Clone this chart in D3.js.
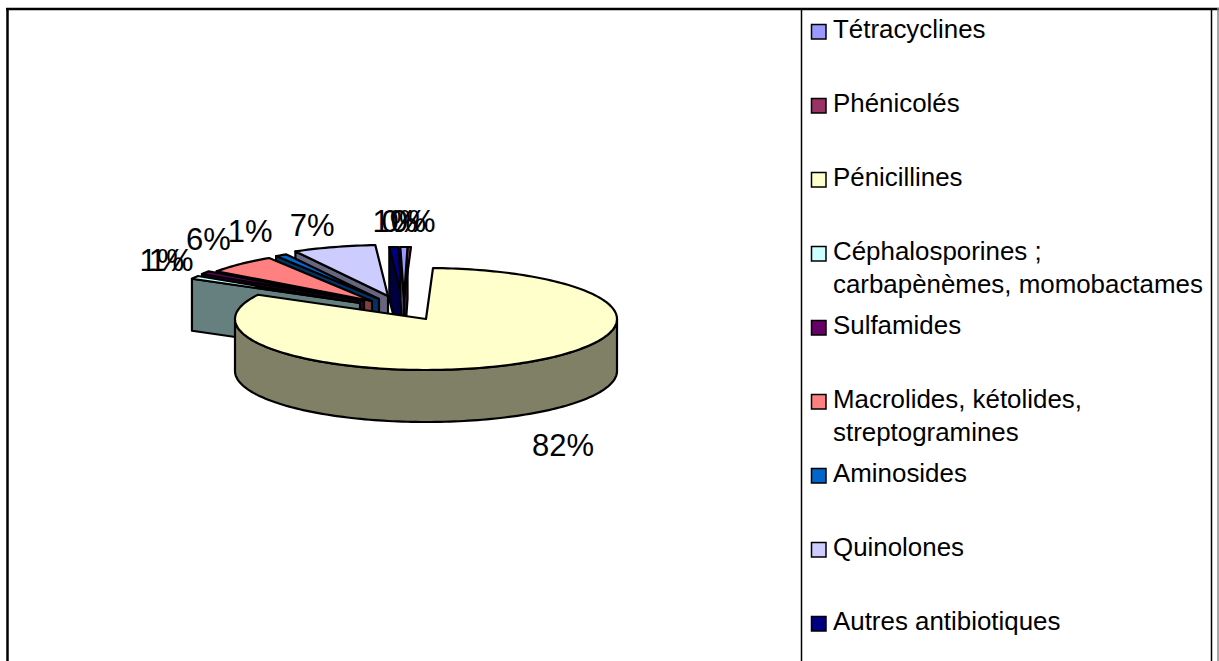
<!DOCTYPE html>
<html>
<head>
<meta charset="utf-8">
<script src="https://cdn.jsdelivr.net/npm/d3@7"></script>
<style>
  html, body { margin: 0; padding: 0; background: #fff; overflow: hidden; }
  text { font-family: "Liberation Sans", Arial, sans-serif; fill: #000; }
</style>
</head>
<body>
<svg id="chart" width="1219" height="661"></svg>
<script>
// clockwise from the top of the pie, the order the legend uses
const categories = ["Tétracyclines", "Phénicolés", "Pénicillines", "Céphalosporines ;", "Sulfamides",
  "Macrolides, kétolides,", "Aminosides", "Quinolones", "Autres antibiotiques"];
const secondLines = ["", "", "", "carbapènèmes, momobactames", "", "streptogramines", "", "", ""];
const values = [0.6, 0.29, 82.3, 1, 1, 6.06, 1, 7, 0.75];
const percentLabels = ["0%", "0%", "82%", "1%", "1%", "6%", "1%", "7%", "1%"];

const topColors = ["#9999ff", "#993366", "#ffffcc", "#ccffff", "#660066", "#ff8080", "#0066cc", "#ccccff", "#000080"];
const sideColors = ["#4d4d80", "#4d1a33", "#808066", "#668080", "#330033", "#804040", "#003366", "#666680", "#000040"];

// how far each slice was pulled out of the pie
const explodeX = [-22, -22, 0, -66, -62, -54, -47, -38, -24];
const explodeY = [-21, -21, 0, -16, -18, -18, -20, -23, -21];
// label position relative to the middle of the slice's outer edge
const labelX = [0, 4, 0, -33, -34, -32, -31, -22, 1];
const labelY = [-26, -26, 0, -17, -13, -25, -24, -22, -26];

const cx = 426, cy = 319, rx = 191, ry = 51, depth = 52;
const startAngle = 2.1 - (values[0] + values[1]) * 3.6;

const svg = d3.select("#chart");

const frame = svg.append("g").attr("fill", "none").attr("stroke", "#000");
frame.append("line").attr("x1", 6).attr("x2", 1219).attr("y1", 9).attr("y2", 9).attr("stroke-width", 2.5);
frame.append("line").attr("x1", 7.5).attr("x2", 7.5).attr("y1", 8).attr("y2", 661).attr("stroke-width", 2.5);
frame.append("line").attr("x1", 801.5).attr("x2", 801.5).attr("y1", 8).attr("y2", 661).attr("stroke-width", 1.5);
frame.append("line").attr("x1", 1211.5).attr("x2", 1211.5).attr("y1", 8).attr("y2", 661).attr("stroke-width", 1.5);
frame.append("line").attr("x1", 1218).attr("x2", 1218).attr("y1", 8).attr("y2", 661).attr("stroke", "#888").attr("stroke-width", 1.5);

const pie = d3.pie().sort(null).startAngle(startAngle * Math.PI / 180).endAngle((startAngle + 360) * Math.PI / 180);
const slices = pie(values).map((s, i) => ({ ...s, i, dx: explodeX[i], dy: explodeY[i] }));

function rim(d, t) {
  return [cx + d.dx + rx * Math.sin(t), cy + d.dy - ry * Math.cos(t)];
}

function arcPoints(d, a, b) {
  const n = Math.max(2, Math.ceil(Math.abs(b - a) * 40));
  return d3.range(n + 1).map(k => rim(d, a + (b - a) * k / n));
}

const line = d3.line();
const pieLayer = svg.append("g").attr("stroke", "#000").attr("stroke-width", 2.2).attr("stroke-linejoin", "round");

// back slices first, the big one last
const drawOrder = [8, 1, 0, 7, 6, 5, 4, 3, 2];
drawOrder.forEach(i => {
  const d = slices[i];
  const apex = [cx + d.dx, cy + d.dy];
  if (i === 2) {
    // only the front of the rim shows
    const front = arcPoints(d, Math.PI / 2, Math.PI * 3 / 2);
    const lower = front.map(p => [p[0], p[1] + depth]).reverse();
    pieLayer.append("path").attr("d", line([...front, ...lower]) + "Z").attr("fill", sideColors[i]);
  } else {
    // cut side facing the viewer
    const o = rim(d, d.startAngle);
    pieLayer.append("path")
      .attr("d", line([apex, o, [o[0], o[1] + depth], [apex[0], apex[1] + depth]]) + "Z")
      .attr("fill", sideColors[i]);
  }
  pieLayer.append("path")
    .attr("d", line([apex, ...arcPoints(d, d.startAngle, d.endAngle)]) + "Z")
    .attr("fill", topColors[i]);
});

// percent labels
svg.append("g").attr("font-size", 31).attr("text-anchor", "middle")
  .selectAll("text").data(slices).join("text")
  .attr("x", d => {
    if (d.i === 2) return 563;
    return rim(d, (d.startAngle + d.endAngle) / 2)[0] + labelX[d.i];
  })
  .attr("y", d => {
    if (d.i === 2) return 456;
    return rim(d, (d.startAngle + d.endAngle) / 2)[1] + labelY[d.i] + 11;
  })
  .text(d => percentLabels[d.i]);

// legend
const legendY = d3.scalePoint().domain(categories).range([31, 623]);
const legend = svg.append("g").selectAll("g").data(categories).join("g")
  .attr("transform", d => `translate(0,${legendY(d)})`);
legend.append("rect").attr("x", 811.5).attr("y", -6.5).attr("width", 14.5).attr("height", 14.5)
  .attr("fill", (d, i) => topColors[i]).attr("stroke", "#000").attr("stroke-width", 1.5);
legend.append("text").attr("x", 833).attr("y", 7).attr("font-size", 25.9).text(d => d);
legend.append("text").attr("x", 833).attr("y", 39.5).attr("font-size", 25.9).text((d, i) => secondLines[i]);
</script>
</body>
</html>
